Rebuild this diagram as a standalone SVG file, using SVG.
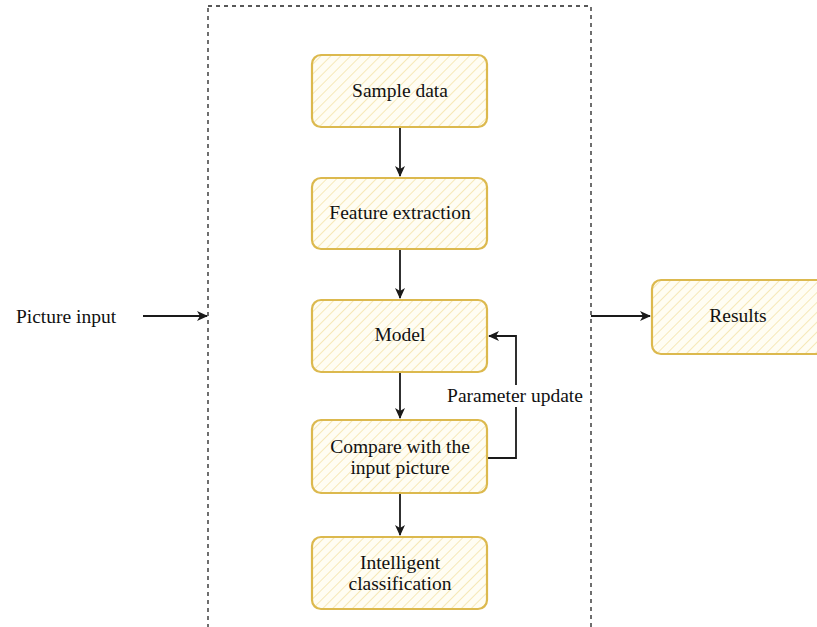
<svg xmlns="http://www.w3.org/2000/svg" width="817" height="627" viewBox="0 0 817 627">
<style>
.node rect{fill:url(#hatch);stroke:#dcb94e;stroke-width:2.2}
.t{font-family:"Liberation Serif","Times New Roman",serif;font-size:19.5px;fill:#111;text-anchor:middle;dominant-baseline:central}
.c{fill:none;stroke:#1a1a1a;stroke-width:1.8}
</style>
<defs>
<pattern id="hatch" patternUnits="userSpaceOnUse" width="7" height="7" patternTransform="rotate(45)">
<rect width="7" height="7" fill="#fffdf3"/>
<line x1="0" y1="0" x2="0" y2="7" stroke="#f6e8b8" stroke-width="2"/>
</pattern>
<marker id="arr" markerWidth="12" markerHeight="10" refX="10" refY="5" orient="auto" markerUnits="userSpaceOnUse">
<path d="M0,0 L11,5 L0,10 L3,5 Z" fill="#1a1a1a"/>
</marker>
</defs>
<rect width="817" height="627" fill="#ffffff"/>
<rect id="container" x="208" y="6" width="383" height="640" fill="none" stroke="#222" stroke-width="1.3" stroke-dasharray="4,4"/>
<g id="connectors">
<line class="c" x1="400" y1="128" x2="400" y2="176" marker-end="url(#arr)"/>
<line class="c" x1="400" y1="250" x2="400" y2="298" marker-end="url(#arr)"/>
<line class="c" x1="400" y1="373" x2="400" y2="418" marker-end="url(#arr)"/>
<line class="c" x1="400" y1="494" x2="400" y2="535" marker-end="url(#arr)"/>
<polyline class="c" points="488,458 516,458 516,336 489,336" marker-end="url(#arr)"/>
<line class="c" x1="143" y1="316" x2="207" y2="316" marker-end="url(#arr)"/>
<line class="c" x1="591" y1="316" x2="650" y2="316" marker-end="url(#arr)"/>
<rect x="443" y="385" width="145" height="22" fill="#ffffff"/>
<text class="t" x="515" y="395">Parameter update</text>
</g>
<g id="sample" class="node"><rect x="312" y="55" width="175" height="72" rx="9"/><text class="t" x="400" y="90">Sample data</text></g>
<g id="feature" class="node"><rect x="312" y="178" width="175" height="71" rx="9"/><text class="t" x="400" y="212">Feature extraction</text></g>
<g id="model" class="node"><rect x="312" y="300" width="175" height="72" rx="9"/><text class="t" x="400" y="334">Model</text></g>
<g id="compare" class="node"><rect x="312" y="420" width="175" height="73" rx="9"/><text class="t" x="400" y="446">Compare with the</text><text class="t" x="400" y="467">input picture</text></g>
<g id="classify" class="node"><rect x="312" y="537" width="175" height="72" rx="9"/><text class="t" x="400" y="562">Intelligent</text><text class="t" x="400" y="583">classification</text></g>
<g id="results" class="node"><rect x="652" y="280" width="175" height="74" rx="9"/><text class="t" x="738" y="315">Results</text></g>
<g id="input"><text class="t" x="66" y="316">Picture input</text></g>
</svg>
